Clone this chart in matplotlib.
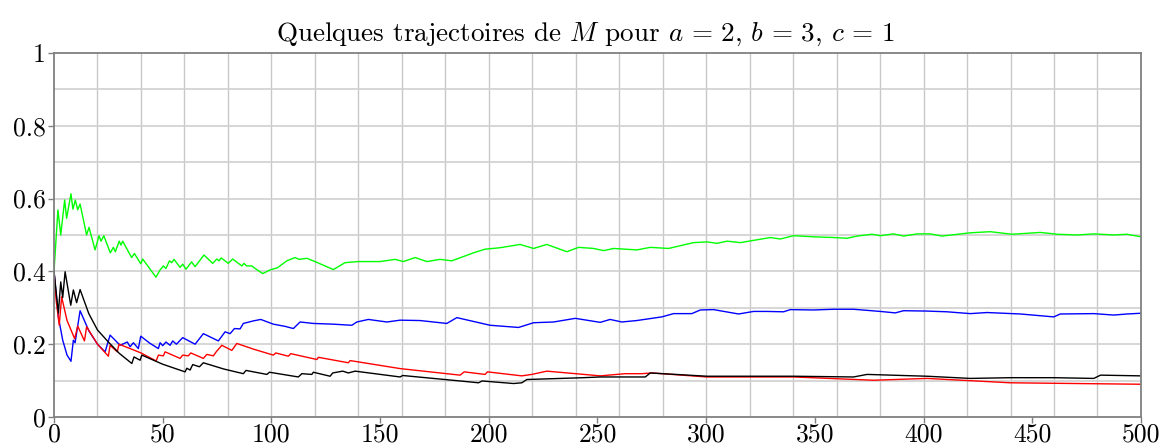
import matplotlib
matplotlib.use("Agg")
import matplotlib.pyplot as plt

# trajectories of M (step n, value)
n_green = [0, 1.8, 3.1, 4.9, 5.8, 7.8, 8.7, 9.8, 10.9, 12,
           15, 16.1, 18.9, 20.7, 21.6, 22.9, 25.9, 27.3, 28.2, 30,
           30.8, 31.6, 35.7, 37, 39.9, 40.8, 46.9, 48.8, 50.3, 51.5,
           53.1, 54.1, 55.2, 58, 59.2, 60.7, 63.3, 64.9, 69, 73,
           74.9, 75.9, 76.9, 80.2, 82.2, 86.4, 87.4, 88.6, 91, 92.5,
           96, 99.4, 102.8, 107.1, 110.9, 112.7, 116.3, 120, 123.9, 128.5,
           133.9, 140, 150, 156.9, 160.7, 166.1, 171.5, 177.6, 183, 193,
           198.3, 205.2, 214.4, 220.6, 226.7, 235.9, 241.3, 248.2, 252.8, 257.4,
           268.1, 274.3, 282.7, 294.2, 300.4, 305, 309.6, 315.7, 329.5, 334.1,
           340.2, 349.4, 358.6, 364.8, 369.4, 376.3, 380.1, 386.2, 390.8, 397,
           403.1, 408.5, 421.5, 430.7, 440.7, 453.7, 461.4, 470.6, 478.3, 487.5,
           493.6, 500]
m_green = [0.400, 0.569, 0.500, 0.596, 0.546, 0.613, 0.571, 0.596, 0.569, 0.585,
           0.500, 0.521, 0.459, 0.498, 0.483, 0.498, 0.451, 0.466, 0.454, 0.483,
           0.472, 0.483, 0.438, 0.449, 0.421, 0.434, 0.384, 0.404, 0.415, 0.408,
           0.429, 0.424, 0.433, 0.411, 0.420, 0.406, 0.426, 0.413, 0.445, 0.422,
           0.434, 0.429, 0.437, 0.422, 0.434, 0.415, 0.422, 0.415, 0.415, 0.408,
           0.394, 0.404, 0.410, 0.429, 0.438, 0.433, 0.436, 0.427, 0.417, 0.405,
           0.424, 0.427, 0.427, 0.433, 0.427, 0.438, 0.427, 0.433, 0.429, 0.451,
           0.461, 0.465, 0.474, 0.463, 0.474, 0.454, 0.466, 0.463, 0.457, 0.463,
           0.459, 0.466, 0.463, 0.479, 0.481, 0.477, 0.483, 0.479, 0.493, 0.489,
           0.498, 0.495, 0.493, 0.491, 0.497, 0.502, 0.498, 0.503, 0.497, 0.503,
           0.503, 0.497, 0.506, 0.509, 0.502, 0.507, 0.502, 0.500, 0.503, 0.500,
           0.502, 0.495]

n_blue = [0, 2, 4, 6, 7.8, 8.9, 9.7, 12, 16, 20,
          23.5, 25.8, 30.4, 33.7, 35, 36.5, 38.8, 39.9, 44, 48,
          48.8, 50, 51.5, 53.4, 54.6, 56.3, 59.2, 64.9, 68.7, 75.6,
          78.7, 81, 83, 85.6, 87.1, 91.7, 95.1, 100.9, 106.3, 110.1,
          113.2, 119.3, 128.5, 137, 139.3, 144.6, 153.1, 159.2, 168.4, 180.7,
          185.3, 200.6, 213.7, 220.6, 229.8, 239.8, 251.3, 255.8, 261.2, 268.1,
          279.6, 285, 293.4, 297.3, 303.4, 314.9, 321.8, 327.9, 335.6, 338.7,
          349.4, 358.6, 367.8, 380.1, 387, 390.8, 401.6, 410.8, 421.5, 429.2,
          444.5, 459.9, 462.9, 478.3, 487.5, 493.6, 500]
m_blue = [0.400, 0.275, 0.211, 0.170, 0.153, 0.211, 0.204, 0.292, 0.237, 0.200,
          0.179, 0.225, 0.197, 0.206, 0.193, 0.204, 0.188, 0.222, 0.203, 0.188,
          0.204, 0.196, 0.206, 0.197, 0.209, 0.200, 0.218, 0.200, 0.229, 0.209,
          0.234, 0.229, 0.243, 0.242, 0.257, 0.264, 0.268, 0.255, 0.249, 0.243,
          0.261, 0.257, 0.255, 0.252, 0.261, 0.268, 0.261, 0.266, 0.265, 0.257,
          0.273, 0.252, 0.246, 0.259, 0.261, 0.271, 0.260, 0.268, 0.261, 0.265,
          0.275, 0.284, 0.284, 0.294, 0.295, 0.283, 0.290, 0.290, 0.289, 0.295,
          0.294, 0.296, 0.296, 0.290, 0.286, 0.292, 0.291, 0.289, 0.284, 0.287,
          0.283, 0.275, 0.283, 0.284, 0.280, 0.283, 0.285]

n_red = [0, 1, 2.4, 3.5, 6, 9.5, 10.9, 14, 15, 20,
         25, 25.8, 29.1, 29.9, 35, 40, 47, 48, 50.3, 51.1,
         58, 59.2, 61.8, 62.9, 68.7, 70.3, 73.3, 74.6, 77.2, 81.8,
         84.1, 92, 100.9, 102, 107.8, 108.9, 120.9, 121.6, 135.4, 136.2,
         159.2, 186.8, 188.7, 198.3, 199.4, 215.2, 219.8, 226.7, 251.3, 262.7,
         270.4, 275, 300.4, 318.8, 340.2, 377, 401.6, 439.9, 500]
m_red = [0.400, 0.320, 0.252, 0.330, 0.265, 0.215, 0.250, 0.209, 0.248, 0.200,
         0.167, 0.197, 0.179, 0.200, 0.188, 0.176, 0.154, 0.170, 0.168, 0.179,
         0.161, 0.170, 0.168, 0.176, 0.161, 0.172, 0.168, 0.179, 0.197, 0.183,
         0.202, 0.186, 0.170, 0.176, 0.167, 0.174, 0.158, 0.164, 0.149, 0.155,
         0.133, 0.115, 0.124, 0.117, 0.124, 0.113, 0.117, 0.126, 0.113, 0.119,
         0.119, 0.121, 0.110, 0.110, 0.110, 0.101, 0.106, 0.094, 0.090]

n_black = [0, 2, 3.1, 4, 5.1, 7.7, 8.9, 10.4, 12, 16,
           20, 25, 30, 35.8, 36.8, 39.6, 40.4, 50, 60.3, 61.1,
           62.6, 63.8, 66.9, 68.7, 78, 87.1, 88.3, 97.9, 99.1, 112.4,
           114, 118.6, 119.3, 127, 128.2, 132.8, 135.4, 138.5, 159.2, 160.4,
           186.8, 195.3, 196.9, 211.4, 215.2, 217.5, 243.6, 251.3, 272, 274.3,
           300.4, 340.2, 367.8, 374, 401.6, 421.5, 439.9, 459.9, 478.3, 481.4,
           500]
m_black = [0.400, 0.286, 0.371, 0.328, 0.399, 0.307, 0.349, 0.314, 0.350, 0.284,
           0.239, 0.206, 0.175, 0.147, 0.165, 0.156, 0.170, 0.145, 0.124, 0.134,
           0.129, 0.144, 0.138, 0.149, 0.132, 0.119, 0.128, 0.117, 0.123, 0.110,
           0.119, 0.117, 0.123, 0.112, 0.121, 0.126, 0.121, 0.126, 0.110, 0.114,
           0.099, 0.094, 0.099, 0.092, 0.094, 0.103, 0.108, 0.110, 0.110, 0.121,
           0.112, 0.112, 0.110, 0.117, 0.112, 0.106, 0.108, 0.108, 0.106, 0.115,
           0.113]

xticks = [0, 50, 100, 150, 200, 250, 300, 350, 400, 450, 500]
yticks = [0, 0.2, 0.4, 0.6, 0.8, 1]
ytick_labels = ["0", "0.2", "0.4", "0.6", "0.8", "1"]

plt.rcParams['font.family'] = 'cmr10'
plt.rcParams['mathtext.fontset'] = 'cm'
plt.rcParams['axes.formatter.use_mathtext'] = True

fig = plt.figure(figsize=(11.64, 4.45), dpi=100)
ax = fig.add_axes([0.0464, 0.0629, 0.9338, 0.8181])

# light grid every 20 steps and every 0.1
for x in range(20, 500, 20):
    ax.axvline(x, color='#c8c8c8', lw=1.0, zorder=0)
for k in range(1, 10):
    ax.axhline(k / 10, color='#d0d0d0', lw=1.2, zorder=0)

series = [(n_green, m_green, '#00ff00'), (n_blue, m_blue, '#0000ff'),
          (n_red, m_red, '#ff0000'), (n_black, m_black, 'black')]
for n, m, col in series:
    ax.plot(n, m, color=col, lw=1.0)

ax.set_xlim(0, 500)
ax.set_ylim(0, 1)
ax.set_xticks(xticks)
ax.set_xticklabels([str(t) for t in xticks])
ax.set_yticks(yticks)
ax.set_yticklabels(ytick_labels)
ax.tick_params(labelsize=18.5, length=4, width=1.0, color='#808080')
ax.tick_params(axis='x', pad=0.5)
ax.tick_params(axis='y', pad=2)
for s in ax.spines.values():
    s.set_color('#808080')
    s.set_linewidth(1.3)

ax.set_title(r'Quelques trajectoires de $M$ pour $a\,=\,2$, $b\,=\,3$, $c\,=\,1$',
             fontsize=19.5, pad=9, x=0.489)

fig.savefig('out.png', dpi=100)
